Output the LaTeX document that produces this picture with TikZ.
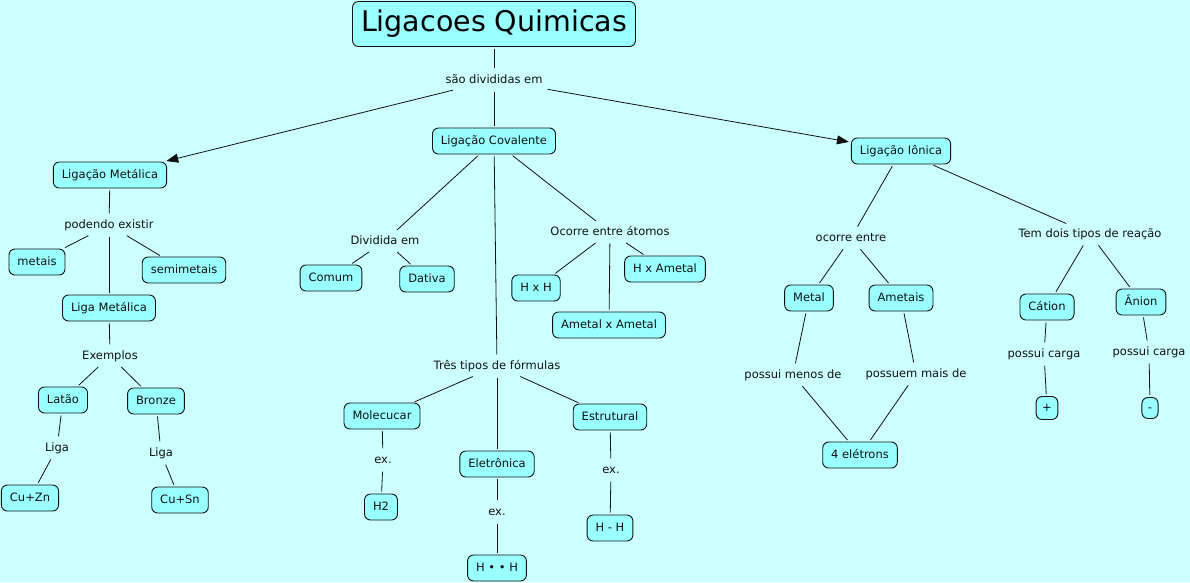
\documentclass[tikz,border=0pt]{standalone}
\usepackage{fontspec}
\setmainfont{DejaVu Sans}
\usetikzlibrary{arrows.meta}
\definecolor{bg}{HTML}{CCFFFF}
\definecolor{boxfill}{HTML}{99FFFF}
\definecolor{ink}{HTML}{111111}
\tikzset{
  concept/.style={draw=ink, fill=boxfill, rounded corners=6pt, line width=0.9pt,
    inner xsep=8.5pt, inner ysep=0pt, minimum height=26pt, text=ink,
    font=\fontsize{11.5}{13}\selectfont, text height=8.5pt, text depth=2.5pt},
  lnk/.style={inner xsep=3pt, inner ysep=0pt, minimum height=19pt, text=ink,
    font=\fontsize{11.5}{13}\selectfont, text height=8.5pt, text depth=2.5pt},
  conn/.style={draw=ink, line width=0.8pt, shorten <=2pt, shorten >=2pt},
  arr/.style={conn, -{Triangle[length=12pt,width=9pt]}}
}
\begin{document}
\begin{tikzpicture}[x=1pt,y=-1pt]
\useasboundingbox (0,0) rectangle (1190,582);
\fill[bg] (0,0) rectangle (1190,582);

% title
\node[concept, minimum height=45pt, font=\fontsize{28.5}{32}\selectfont, text height=21pt, text depth=6pt, text=black] (title) at (494,24) {Ligacoes Quimicas};
\node[lnk] (ldiv) at (494,80) {são divididas em};

\node[concept] (met) at (110,175) {Ligação Metálica};
\node[concept] (cov) at (494,141) {Ligação Covalente};
\node[concept] (ion) at (901,151) {Ligação Iônica};

\draw[conn] (title) -- (ldiv);
\draw[arr] (ldiv) -- (met);
\draw[conn] (ldiv) -- (cov);
\draw[arr] (ldiv) -- (ion);

% metallic branch
\node[lnk] (lpod) at (109,225) {podendo existir};
\node[concept] (metais) at (37,262) {metais};
\node[concept] (semi) at (184,270) {semimetais};
\node[concept] (liga) at (109,308) {Liga Metálica};
\node[lnk] (lex) at (110,356) {Exemplos};
\node[concept] (latao) at (63,400) {Latão};
\node[concept] (bronze) at (156,401) {Bronze};
\node[lnk] (lliga1) at (57,448) {Liga};
\node[lnk] (lliga2) at (161,453) {Liga};
\node[concept] (cuzn) at (30,498) {Cu+Zn};
\node[concept] (cusn) at (180,500) {Cu+Sn};

\draw[conn] (met) -- (lpod);
\draw[conn] (lpod) -- (metais);
\draw[conn] (lpod) -- (semi);
\draw[conn] (lpod) -- (liga);
\draw[conn] (liga) -- (lex);
\draw[conn] (lex) -- (latao);
\draw[conn] (lex) -- (bronze);
\draw[conn] (latao) -- (lliga1);
\draw[conn] (lliga1) -- (cuzn);
\draw[conn] (bronze) -- (lliga2);
\draw[conn] (lliga2) -- (cusn);

% covalent branch
\node[lnk] (ldivd) at (385,241) {Dividida em};
\node[concept] (comum) at (331,278) {Comum};
\node[concept] (dativa) at (427,279) {Dativa};
\node[lnk] (locor) at (610,232) {Ocorre entre átomos};
\node[concept] (hxh) at (536,288) {H x H};
\node[concept] (hxam) at (665,269) {H x Ametal};
\node[concept] (amxam) at (609,325) {Ametal x Ametal};
\node[lnk] (ltres) at (497,366) {Três tipos de fórmulas};
\node[concept] (molec) at (382,416) {Molecucar};
\node[concept] (eletr) at (497,464) {Eletrônica};
\node[concept] (estr) at (610,417) {Estrutural};
\node[lnk] (lex1) at (383,460) {ex.};
\node[lnk] (lex2) at (497,512) {ex.};
\node[lnk] (lex3) at (611,470) {ex.};
\node[concept] (h2) at (381,507) {H2};
\node[concept] (hdh) at (497,568) {H • • H};
\node[concept] (hmh) at (610,528) {H - H};

\draw[conn] (cov) -- (ldivd);
\draw[conn] (ldivd) -- (comum);
\draw[conn] (ldivd) -- (dativa);
\draw[conn] (cov) -- (locor);
\draw[conn] (locor) -- (hxh);
\draw[conn] (locor) -- (amxam);
\draw[conn] (locor) -- (hxam);
\draw[conn] (cov) -- (ltres);
\draw[conn] (ltres) -- (molec);
\draw[conn] (ltres) -- (eletr);
\draw[conn] (ltres) -- (estr);
\draw[conn] (molec) -- (lex1);
\draw[conn] (lex1) -- (h2);
\draw[conn] (eletr) -- (lex2);
\draw[conn] (lex2) -- (hdh);
\draw[conn] (estr) -- (lex3);
\draw[conn] (lex3) -- (hmh);

% ionic branch
\node[lnk] (locent) at (851,238) {ocorre entre};
\node[concept] (metal) at (809,298) {Metal};
\node[concept] (ametais) at (901,298) {Ametais};
\node[lnk] (lmenos) at (793,375) {possui menos de};
\node[lnk] (lmais) at (916,374) {possuem mais de};
\node[concept] (quatro) at (860,455) {4 elétrons};
\node[lnk] (ltem) at (1090,234) {Tem dois tipos de reação};
\node[concept] (cation) at (1047,307) {Cátion};
\node[concept] (anion) at (1141,302) {Ânion};
\node[lnk] (lcar1) at (1044,354) {possui carga};
\node[lnk] (lcar2) at (1149,352) {possui carga};
\node[concept, inner xsep=6pt, minimum height=23pt] (plus) at (1047,408) {+};
\node[concept, inner xsep=6pt, minimum height=21pt] (minus) at (1150,408) {-};

\draw[conn] (ion) -- (locent);
\draw[conn] (locent) -- (metal);
\draw[conn] (locent) -- (ametais);
\draw[conn] (metal) -- (lmenos);
\draw[conn] (lmenos) -- (quatro);
\draw[conn] (ametais) -- (lmais);
\draw[conn] (lmais) -- (quatro);
\draw[conn] (ion) -- (ltem);
\draw[conn] (ltem) -- (cation);
\draw[conn] (ltem) -- (anion);
\draw[conn] (cation) -- (lcar1);
\draw[conn] (lcar1) -- (plus);
\draw[conn] (anion) -- (lcar2);
\draw[conn] (lcar2) -- (minus);
\end{tikzpicture}
\end{document}
